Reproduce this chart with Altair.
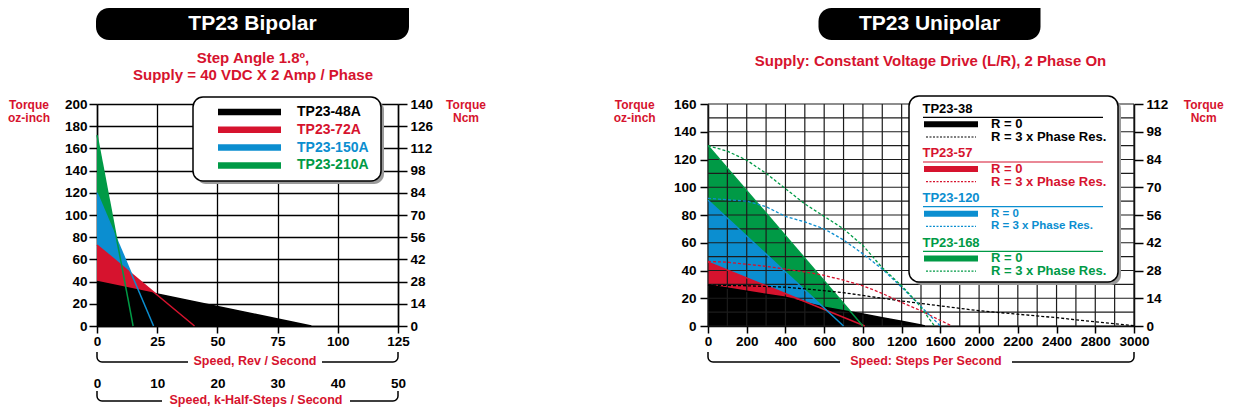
import json
import pandas as pd
import altair as alt

RED = "#d6132e"
BLUE = "#0b8ed0"
GREEN = "#009a46"
BLACK = "#000000"
FONT = "Liberation Sans"

# ---------------- TP23 Bipolar: speed (rev / s) vs torque (oz-inch)
bi_models = ["TP23-48A", "TP23-72A", "TP23-150A", "TP23-210A"]
bi_colors = [BLACK, RED, BLUE, GREEN]
bi_48a_speed = [0, 89]
bi_48a_torque = [40, 0]
bi_72a_speed = [0, 40.5]
bi_72a_torque = [73, 0]
bi_150a_speed = [0, 23.5]
bi_150a_torque = [120, 0]
bi_210a_speed = [0, 15]
bi_210a_torque = [172, 0]
bi_speed_ticks = [0, 25, 50, 75, 100, 125]
bi_torque_ticks = [0, 20, 40, 60, 80, 100, 120, 140, 160, 180, 200]
bi_ncm_labels = ["0", "14", "28", "42", "56", "70", "84", "98", "112", "126", "140"]
bi_khalf_labels = ["0", "10", "20", "30", "40", "50"]

# ---------------- TP23 Unipolar: speed (position along the labelled axis) vs torque (oz-inch)
uni_speed_labels = ["0", "200", "400", "600", "800", "1200", "1600", "2000", "2200", "2400", "2800", "3000"]
uni_torque_ticks = [0, 20, 40, 60, 80, 100, 120, 140, 160]
uni_ncm_labels = ["0", "14", "28", "42", "56", "70", "84", "98", "112"]
uni_models = ["TP23-38", "TP23-57", "TP23-120", "TP23-168"]
uni_colors = [BLACK, RED, BLUE, GREEN]
# R = 0 (solid, filled)
uni38_r0_x = [0, 1, 2, 2.5, 3, 3.5, 4, 4.5, 5, 5.5, 5.6]
uni38_r0_y = [29.5, 25, 20.7, 17, 13.5, 11, 8.7, 6, 3.5, 0.8, 0]
uni57_r0_x = [0, 4.05]
uni57_r0_y = [46, 0]
uni120_r0_x = [0, 3.5]
uni120_r0_y = [90.6, 0]
uni168_r0_x = [0, 4.0]
uni168_r0_y = [130, 0]
# R = 3 x Phase Res. (dashed)
uni38_r3_x = [0, 1, 2, 3, 3.5, 4, 4.5, 5, 6, 7, 8, 9, 10, 11]
uni38_r3_y = [29.5, 29, 28, 25.5, 24, 22, 20, 18, 14.5, 11, 8.5, 6, 3, 0.3]
uni57_r3_x = [0, 0.5, 1, 1.5, 2, 2.5, 3, 3.5, 4, 4.5, 5, 5.5, 6, 6.3]
uni57_r3_y = [46.5, 46, 44.5, 43, 41, 39, 36.5, 33, 29, 23.5, 17, 11, 4, 0]
uni120_r3_x = [0, 0.5, 1, 1.5, 2, 2.5, 3, 3.5, 4, 4.5, 5, 5.5, 6]
uni120_r3_y = [92, 91, 90, 86, 79, 75, 70, 62, 52, 41, 28, 14, 0]
uni168_r3_x = [0, 0.5, 1, 1.5, 2, 2.5, 3, 3.5, 4, 4.5, 5, 5.4, 5.85]
uni168_r3_y = [130, 126, 119.5, 110, 99, 88, 79, 70, 58, 42, 29, 17, 0]

ONE = pd.DataFrame({"k": [0]})
W_BI, H = 301, 222
W_UNI = 426


def xy(xs, ys):
    return pd.DataFrame({"x": xs, "y": ys})


def txt(s, x, y, size, color, align="center"):
    return alt.Chart(pd.DataFrame({"t": [s]})).mark_text(
        font=FONT, fontSize=size, fontWeight="bold", color=color, align=align, baseline="middle"
    ).encode(text="t:N", x=alt.value(x), y=alt.value(y))


def box(x, x2, y, y2, **kw):
    return alt.Chart(ONE).mark_rect(**kw).encode(
        x=alt.value(x), x2=alt.value(x2), y=alt.value(y), y2=alt.value(y2))


def hline(x, x2, y, **kw):
    return alt.Chart(ONE).mark_rule(**kw).encode(x=alt.value(x), x2=alt.value(x2), y=alt.value(y))


def lab_axis(**kw):
    base = dict(labelFont=FONT, labelFontSize=13.5, labelFontWeight="bold", labelColor="black",
                labelFlush=False, labelOverlap=False, labelBound=False, title=None,
                domainColor="black", domainWidth=1.5, tickColor="black", tickWidth=1.5)
    base.update(kw)
    return alt.Axis(**base)


def bracket(x0, x1, y0, y1, label, cx, cy, gap):
    w = x1 - x0
    return [
        box(x0, x1, y0, y1, fill="white", fillOpacity=0, stroke="black", strokeWidth=1.5,
            cornerRadiusBottomLeft=5, cornerRadiusBottomRight=5, strokeDash=[0, w, 5000]),
        box(cx - gap / 2, cx + gap / 2, y1 - 4, y1 + 4, fill="white"),
        txt(label, cx, cy, 12.5, RED),
    ]


def banner(x0, x1, label):
    return [
        box(x0, x1, -96, -64, fill="black", cornerRadiusTopLeft=13, cornerRadiusBottomLeft=13,
            cornerRadiusBottomRight=13),
        txt(label, (x0 + x1) / 2, -80, 21, "white"),
    ]


# ================= Left panel: Bipolar
bx = alt.Scale(domain=[0, 125], nice=False)
by = alt.Scale(domain=[0, 200], nice=False)
bi_series = [(bi_48a_speed, bi_48a_torque), (bi_72a_speed, bi_72a_torque),
             (bi_150a_speed, bi_150a_torque), (bi_210a_speed, bi_210a_torque)]

left_layers = []
# filled areas, largest first
for idx in [3, 2, 1, 0]:
    sx, sy = bi_series[idx]
    xa = None
    ya = None
    if idx == 3:
        xa = lab_axis(values=bi_speed_ticks, orient="bottom", grid=True, gridColor="black",
                      gridWidth=1.3, tickSize=7, labelPadding=1)
        ya = lab_axis(values=bi_torque_ticks, orient="left", grid=True, gridColor="black",
                      gridWidth=1.3, tickSize=8, labelPadding=2)
    elif idx == 2:
        ya = lab_axis(values=bi_torque_ticks, orient="right", grid=False, tickSize=9, labelPadding=3,
                      labelExpr=f"{json.dumps(bi_ncm_labels)}[datum.value / 20]")
    elif idx == 1:
        xa = lab_axis(values=bi_speed_ticks, orient="bottom", grid=False, ticks=False, domain=False,
                      tickSize=0, offset=50, labelPadding=0,
                      labelExpr=f"{json.dumps(bi_khalf_labels)}[datum.value / 25]")
    left_layers.append(
        alt.Chart(xy(sx, sy)).mark_area(color=bi_colors[idx], opacity=1).encode(
            x=alt.X("x:Q", scale=bx, axis=xa), y=alt.Y("y:Q", scale=by, axis=ya)))
for idx in [0, 1, 2, 3]:
    sx, sy = bi_series[idx]
    left_layers.append(
        alt.Chart(xy(sx, sy)).mark_line(color=bi_colors[idx], strokeWidth=1.5).encode(
            x=alt.X("x:Q", scale=bx, axis=None), y=alt.Y("y:Q", scale=by, axis=None)))

# legend
left_layers.append(box(99, 287, -4, 80, fill="#9a9a9a", cornerRadius=10))
left_layers.append(box(96, 284, -7, 77, fill="white", stroke="black", strokeWidth=1.5, cornerRadius=10))
for i, (m, c) in enumerate(zip(bi_models, bi_colors)):
    yy = 8 + 17.8 * i
    left_layers.append(hline(121, 184, yy, color=c, strokeWidth=6.5))
    left_layers.append(txt(m, 200, yy, 14, c, align="left"))

left_layers += banner(-1, 312, "TP23 Bipolar")
left_layers.append(txt("Step Angle 1.8º,", 156, -46, 15, RED))
left_layers.append(txt("Supply = 40 VDC X 2 Amp / Phase", 156, -29, 15, RED))
left_layers.append(txt("Torque", -68, 1, 12, RED))
left_layers.append(txt("oz-inch", -68, 14, 12, RED))
left_layers.append(txt("Torque", 369, 1, 12, RED))
left_layers.append(txt("Ncm", 369, 14, 12, RED))
left_layers += bracket(0, W_BI, 248, 258, "Speed, Rev / Second", 158, 257, 134)
left_layers += bracket(0, W_BI, 287, 297, "Speed, k-Half-Steps / Second", 159, 296, 188)

left = alt.layer(*left_layers).resolve_axis(x="independent", y="independent").properties(
    width=W_BI, height=H)

# ================= Right panel: Unipolar
ux = alt.Scale(domain=[0, len(uni_speed_labels) - 1], nice=False)
uy = alt.Scale(domain=[0, uni_torque_ticks[-1]], nice=False)
uni_r0 = [(uni38_r0_x, uni38_r0_y), (uni57_r0_x, uni57_r0_y),
          (uni120_r0_x, uni120_r0_y), (uni168_r0_x, uni168_r0_y)]
uni_r3 = [(uni38_r3_x, uni38_r3_y), (uni57_r3_x, uni57_r3_y),
          (uni120_r3_x, uni120_r3_y), (uni168_r3_x, uni168_r3_y)]

right_layers = []
for idx in [3, 2, 1, 0]:
    sx, sy = uni_r0[idx]
    xa = None
    ya = None
    if idx == 3:
        xa = lab_axis(values=list(range(len(uni_speed_labels))), orient="bottom", grid=False,
                      tickSize=7, labelPadding=1,
                      labelExpr=f"{json.dumps(uni_speed_labels)}[datum.value]")
        ya = lab_axis(values=uni_torque_ticks, orient="left", grid=False, tickSize=8, labelPadding=4)
    elif idx == 2:
        ya = lab_axis(values=uni_torque_ticks, orient="right", grid=False, tickSize=9, labelPadding=3,
                      labelExpr=f"{json.dumps(uni_ncm_labels)}[datum.value / 20]")
    right_layers.append(
        alt.Chart(xy(sx, sy)).mark_area(color=uni_colors[idx], opacity=1).encode(
            x=alt.X("x:Q", scale=ux, axis=xa), y=alt.Y("y:Q", scale=uy, axis=ya)))

# grid lines over the filled areas (every half label step / every 10 oz-inch)
grid_x = pd.DataFrame({"g": [i / 2 for i in range(2 * (len(uni_speed_labels) - 1) + 1)]})
grid_y = pd.DataFrame({"g": list(range(0, uni_torque_ticks[-1] + 1, 10))})
right_layers.append(alt.Chart(grid_x).mark_rule(color="#1c1c1c", strokeWidth=1.2).encode(
    x=alt.X("g:Q", scale=ux, axis=None)))
right_layers.append(alt.Chart(grid_y).mark_rule(color="#1c1c1c", strokeWidth=1.2).encode(
    y=alt.Y("g:Q", scale=uy, axis=None)))

for idx in [0, 1, 2, 3]:
    sx, sy = uni_r0[idx]
    right_layers.append(
        alt.Chart(xy(sx, sy)).mark_line(color=uni_colors[idx], strokeWidth=1.5).encode(
            x=alt.X("x:Q", scale=ux, axis=None), y=alt.Y("y:Q", scale=uy, axis=None)))
for idx in [0, 1, 2, 3]:
    sx, sy = uni_r3[idx]
    right_layers.append(
        alt.Chart(xy(sx, sy)).mark_line(color=uni_colors[idx], strokeWidth=1.3,
                                        strokeDash=[3, 2]).encode(
            x=alt.X("x:Q", scale=ux, axis=None), y=alt.Y("y:Q", scale=uy, axis=None)))

# legend
right_layers.append(box(204, 413, -5, 181, fill="#9a9a9a", cornerRadius=10))
right_layers.append(box(201, 410, -8, 178, fill="white", stroke="black", strokeWidth=1.5, cornerRadius=10))
for i, (m, c) in enumerate(zip(uni_models, uni_colors)):
    y0 = 4.6 + 44.7 * i
    rsize = 11.5 if c == BLUE else 13
    right_layers.append(txt(m, 214.5, y0, 13, c, align="left"))
    right_layers.append(hline(215, 395, y0 + 8.7, color=c, strokeWidth=1.2))
    right_layers.append(hline(216, 270, y0 + 15.7, color=c, strokeWidth=6))
    right_layers.append(hline(218, 268, y0 + 28.4, color=c, strokeWidth=1.2, strokeDash=[2, 1.5]))
    right_layers.append(txt("R = 0", 283, y0 + 15.7, rsize, c, align="left"))
    right_layers.append(txt("R = 3 x Phase Res.", 283, y0 + 28.4, rsize, c, align="left"))

right_layers += banner(110.5, 332.5, "TP23 Unipolar")
right_layers.append(txt("Supply: Constant Voltage Drive (L/R), 2 Phase On", 222.5, -43.5, 15, RED))
right_layers.append(txt("Torque", -73.3, 1, 12, RED))
right_layers.append(txt("oz-inch", -73.3, 14, 12, RED))
right_layers.append(txt("Torque", 495.7, 1, 12, RED))
right_layers.append(txt("Ncm", 495.7, 14, 12, RED))
right_layers += bracket(0, W_UNI, 248, 258, "Speed: Steps Per Second", 218, 257, 172)

right = alt.layer(*right_layers).resolve_axis(x="independent", y="independent").properties(
    width=W_UNI, height=H)

chart = alt.hconcat(left, right, spacing=127).properties(padding=0).configure_view(stroke=None)

chart.save("out.html", embed_options={"renderer": "svg", "actions": False})
